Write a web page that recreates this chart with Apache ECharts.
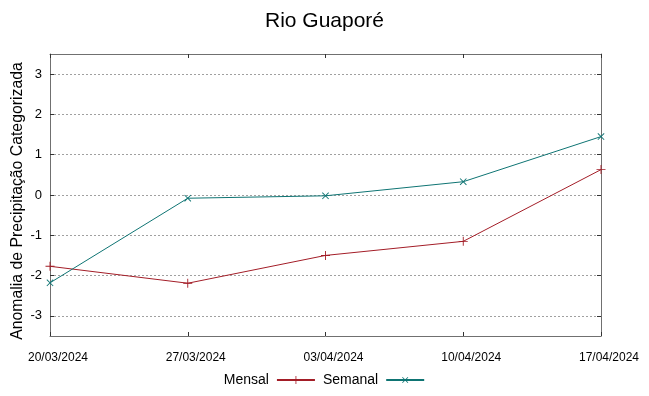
<!DOCTYPE html>
<html><head><meta charset="utf-8">
<script src="https://cdn.jsdelivr.net/npm/echarts@6/dist/echarts.min.js"></script>
<style>html,body{margin:0;padding:0;background:#fff}#c{width:649px;height:396px}</style>
</head><body><div id="c"></div>
<script>
const categories = ['20/03/2024','27/03/2024','03/04/2024','10/04/2024','17/04/2024'];
const mensal = [-1.77, -2.19, -1.50, -1.15, 0.63];
const semanal = [-2.18, -0.08, -0.02, 0.33, 1.45];
const yTicks = [-3,-2,-1,0,1,2,3];
const title = 'Rio Guaporé';
const yName = 'Anomalia de Precipitação Categorizada';

const plus = 'path://M0,4.5H10V5.5H0Z M4.5,0H5.5V10H4.5Z';
const font = 'Liberation Sans, Arial, sans-serif';
const chart = echarts.init(document.getElementById('c'));
chart.setOption({
  animation:false,
  title:{text:title,left:'center',top:6,textStyle:{fontFamily:font,fontSize:21,fontWeight:'normal',color:'#000'}},
  grid:{left:50,right:48,top:54,bottom:60,show:false,outerBoundsMode:'none',containLabel:false},
  legend:{bottom:4,left:'center',align:'right',itemWidth:38,itemHeight:10,itemGap:7,
    textStyle:{fontFamily:font,fontSize:14,color:'#000',padding:[0,3,0,0]},
    data:['Mensal','Semanal']},
  xAxis:[{type:'category',data:categories,boundaryGap:false,
    axisLine:{onZero:false,lineStyle:{color:'#707070'}},
    axisTick:{inside:true,length:4,lineStyle:{color:'#333'}},
    axisLabel:{interval:0,margin:16,padding:[0,0,0,16],fontFamily:'Liberation Sans Narrow, Arial Narrow, sans-serif',fontSize:12,color:'#000'},
    splitLine:{show:false}},
    {type:'category',data:categories,boundaryGap:false,position:'top',
    axisLine:{onZero:false,lineStyle:{color:'#707070'}},
    axisTick:{inside:true,length:4,lineStyle:{color:'#333'}},
    axisLabel:{show:false},splitLine:{show:false}}],
  yAxis:[{type:'value',min:-3.5,max:3.5,name:yName,nameLocation:'middle',nameGap:24,nameMoveOverlap:false,
    nameTextStyle:{fontFamily:font,fontSize:15.8,color:'#000',padding:[0,12,0,0]},
    axisLine:{show:true,onZero:false,lineStyle:{color:'#707070'}},
    axisTick:{show:true,inside:true,length:4,customValues:yTicks,lineStyle:{color:'#333'}},
    axisLabel:{customValues:yTicks,margin:8,fontFamily:font,fontSize:13,color:'#000'},
    splitLine:{show:true,lineStyle:{color:'#a0a0a0',type:[2,2],width:1}}},
    {type:'value',min:-3.5,max:3.5,position:'right',
    axisLine:{show:true,onZero:false,lineStyle:{color:'#707070'}},
    axisTick:{show:true,inside:true,length:4,customValues:yTicks,lineStyle:{color:'#333'}},
    axisLabel:{show:false,customValues:yTicks},splitLine:{show:false}}],
  series:[
    {name:'Mensal',type:'line',data:mensal,symbol:plus,symbolSize:9,showAllSymbol:true,
      itemStyle:{color:'#a31d27'},lineStyle:{color:'#a31d27',width:1}},
    {name:'Semanal',type:'line',data:semanal,symbol:plus,symbolSize:9,symbolRotate:45,showAllSymbol:true,
      itemStyle:{color:'#0e7473'},lineStyle:{color:'#0e7473',width:1}}
  ]
});
</script></body></html>
